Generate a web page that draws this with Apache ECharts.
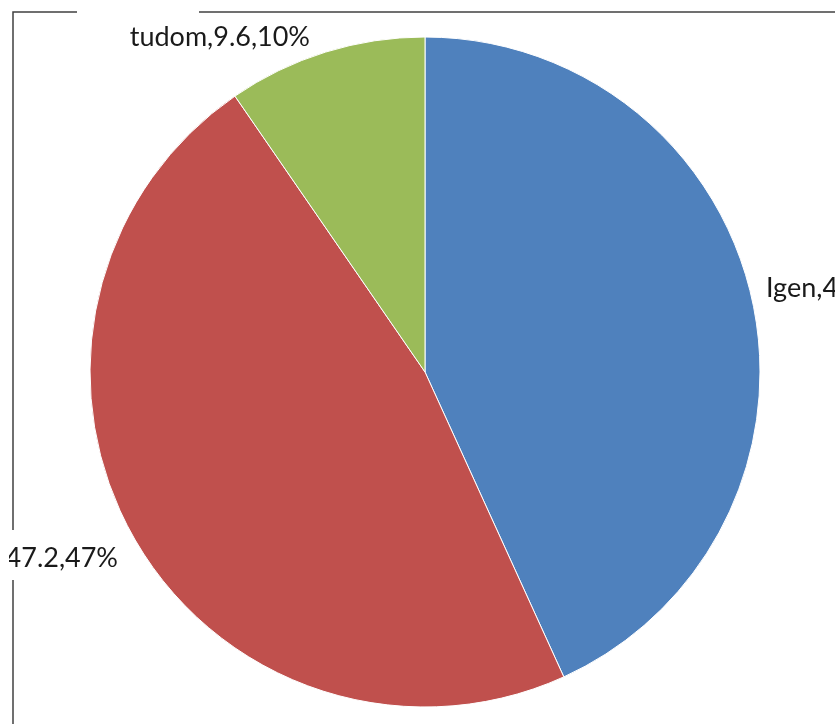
<!DOCTYPE html>
<html>
<head>
<meta charset="utf-8">
<script src="https://cdn.jsdelivr.net/npm/echarts@6/dist/echarts.min.js"></script>
<style>
  html, body { margin: 0; padding: 0; background: #fff; }
  #chart { width: 835px; height: 724px; }
</style>
</head>
<body>
<div id="chart"></div>
<script>
const categories = ['Igen', 'Nem', 'tudom']
const values = [43.2, 47.2, 9.6]
const percents = [43, 47, 10]
const colors = ['#4F81BD', '#C0504D', '#9BBB59']

// where each label sits (the picture is a crop, so some run off the edge)
const labelSpots = [
  { x: 766, y: 288, align: 'left' },
  { x: 118, y: 558, align: 'right' },
  { x: 310, y: 37, align: 'right' }
]

const chart = echarts.init(document.getElementById('chart'))

const frameStyle = { stroke: '#404040', lineWidth: 1.5 }

const option = {
  animation: false,
  backgroundColor: '#fff',
  graphic: [
    { type: 'polyline', shape: { points: [[77, 12], [13, 12], [13, 530]] }, style: frameStyle },
    { type: 'line', shape: { x1: 199, y1: 12, x2: 835, y2: 12 }, style: frameStyle },
    { type: 'line', shape: { x1: 13, y1: 580, x2: 13, y2: 724 }, style: frameStyle },
    // the original is clipped just left of the "47.2" label
    { type: 'rect', z: 100, shape: { x: 0, y: 535, width: 9, height: 45 }, style: { fill: '#fff' } }
  ],
  series: [
    {
      type: 'pie',
      center: [425, 372],
      radius: 335,
      startAngle: 90,
      clockwise: true,
      data: categories.map((name, i) => ({
        name,
        value: values[i],
        itemStyle: { color: colors[i] }
      })),
      itemStyle: { borderColor: '#fff', borderWidth: 1 },
      label: {
        show: true,
        overflow: 'none',
        fontFamily: 'Lato, "Open Sans", sans-serif',
        fontSize: 27,
        color: '#1a1a1a',
        formatter: p => p.name + ',' + p.value + ',' + percents[p.dataIndex] + '%'
      },
      labelLine: { show: false },
      labelLayout: params => {
        const s = labelSpots[params.dataIndex]
        return { x: s.x, y: s.y, align: s.align, verticalAlign: 'middle' }
      },
      emphasis: { disabled: true }
    }
  ]
}

chart.setOption(option)
</script>
</body>
</html>
